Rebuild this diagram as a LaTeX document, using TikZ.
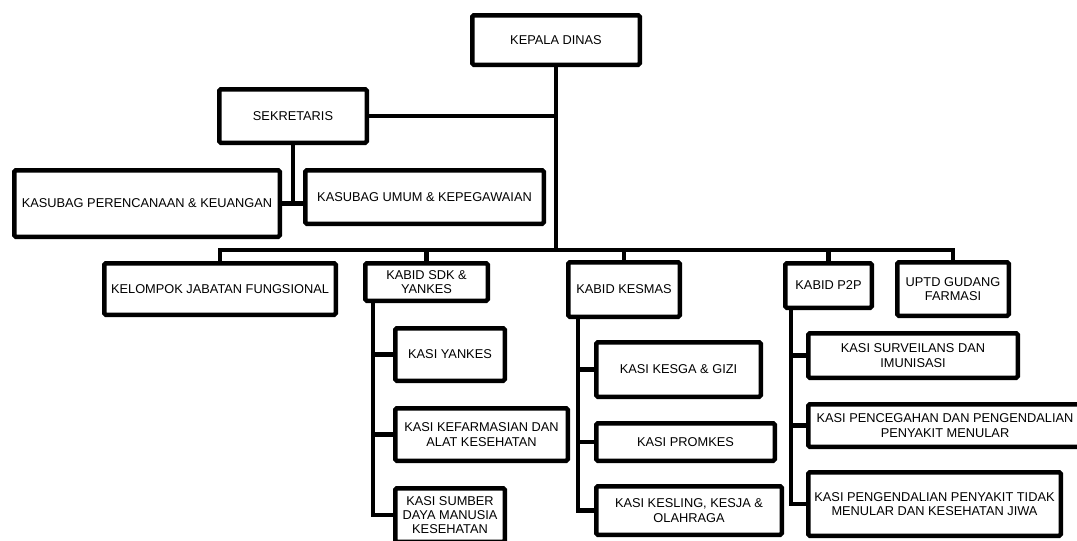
\documentclass[tikz,border=0pt]{standalone}
\usepackage{fontspec}
\setmainfont{Liberation Sans}

\begin{document}
\begin{tikzpicture}[
	x=1pt, y=-1pt,
	line width=4.5pt,
	every node/.style = {
		shape=rectangle, rounded corners=1.5pt,
		draw, align=center, inner sep=0pt,
		font=\fontsize{12.8}{14.2}\selectfont},
	unit/.style n args = {2}{minimum width=#1, minimum height=#2}]
	\useasboundingbox (0,0) rectangle (1077,541);
	\clip (0,0) rectangle (1077,541);
	\node[unit={167.5}{49.5}] (kepala) at (556,40) {KEPALA DINAS};
	\node[unit={147.5}{53.5}] (sekretaris) at (293,116) {SEKRETARIS};
	\node[unit={265.5}{66.5}] (perencanaan) at (147,203.5) {KASUBAG PERENCANAAN \& KEUANGAN};
	\node[unit={238.5}{53.5}] (umum) at (424.5,197) {KASUBAG UMUM \& KEPEGAWAIAN};
	\node[unit={231.5}{51.5}] (kelompok) at (220,289) {KELOMPOK JABATAN FUNGSIONAL};
	\node[unit={122.5}{37.5}] (sdk) at (426.5,282) {KABID SDK \&\\YANKES};
	\node[unit={109.5}{52.5}] (yankes) at (450,354.5) {KASI YANKES};
	\node[unit={172.5}{52.5}] (farmasi) at (481.5,434.5) {KASI KEFARMASIAN DAN\\ALAT KESEHATAN};
	\node[unit={109.5}{53.5}] (sdm) at (450,515) {KASI SUMBER\\DAYA MANUSIA\\KESEHATAN};
	\node[unit={111.5}{54.5}] (kesmas) at (624,289.5) {KABID KESMAS};
	\node[unit={164.5}{54.5}] (kesga) at (678.5,369.5) {KASI KESGA \& GIZI};
	\node[unit={178.5}{37.5}] (promkes) at (685.5,442) {KASI PROMKES};
	\node[unit={185.5}{48.5}] (kesling) at (689,510.5) {KASI KESLING, KESJA \&\\OLAHRAGA};
	\node[unit={86.5}{44.5}] (p2p) at (828.5,285.5) {KABID P2P};
	\node[unit={111.5}{53.5}] (uptd) at (953,289) {UPTD GUDANG\\FARMASI};
	\node[unit={209.5}{44.5}] (surveilans) at (913,355.5) {KASI SURVEILANS DAN\\IMUNISASI};
	\node[unit={273.5}{42.5}] (pencegahan) at (945,425.5) {KASI PENCEGAHAN DAN PENGENDALIAN\\PENYAKIT MENULAR};
	\node[unit={252.5}{63.5}] (pengendalian) at (934.5,504) {KASI PENGENDALIAN PENYAKIT TIDAK\\MENULAR DAN KESEHATAN JIWA};
	\coordinate (bus) at (556,250);
	\draw (kepala.south) -- (bus);
	\draw (sekretaris.east) -- (sekretaris.east -| kepala.south);
	\draw (sekretaris.south) |- (perencanaan.east);
	\draw (perencanaan.east) -- (perencanaan.east -| umum.west);
	\draw (kelompok.north) |- (bus) -| (uptd.north);
	\foreach \k in {sdk,kesmas,p2p}
		\draw (\k.north) -- (\k.north |- bus);
	\foreach \k in {yankes,farmasi,sdm}
		\draw ([xshift=10]sdk.south west) |- (\k.west);
	\foreach \k in {kesga,promkes,kesling}
		\draw ([xshift=12]kesmas.south west) |- (\k.west);
	\foreach \k in {surveilans,pencegahan,pengendalian}
		\draw ([xshift=8]p2p.south west) |- (\k.west);
\end{tikzpicture}
\end{document}
